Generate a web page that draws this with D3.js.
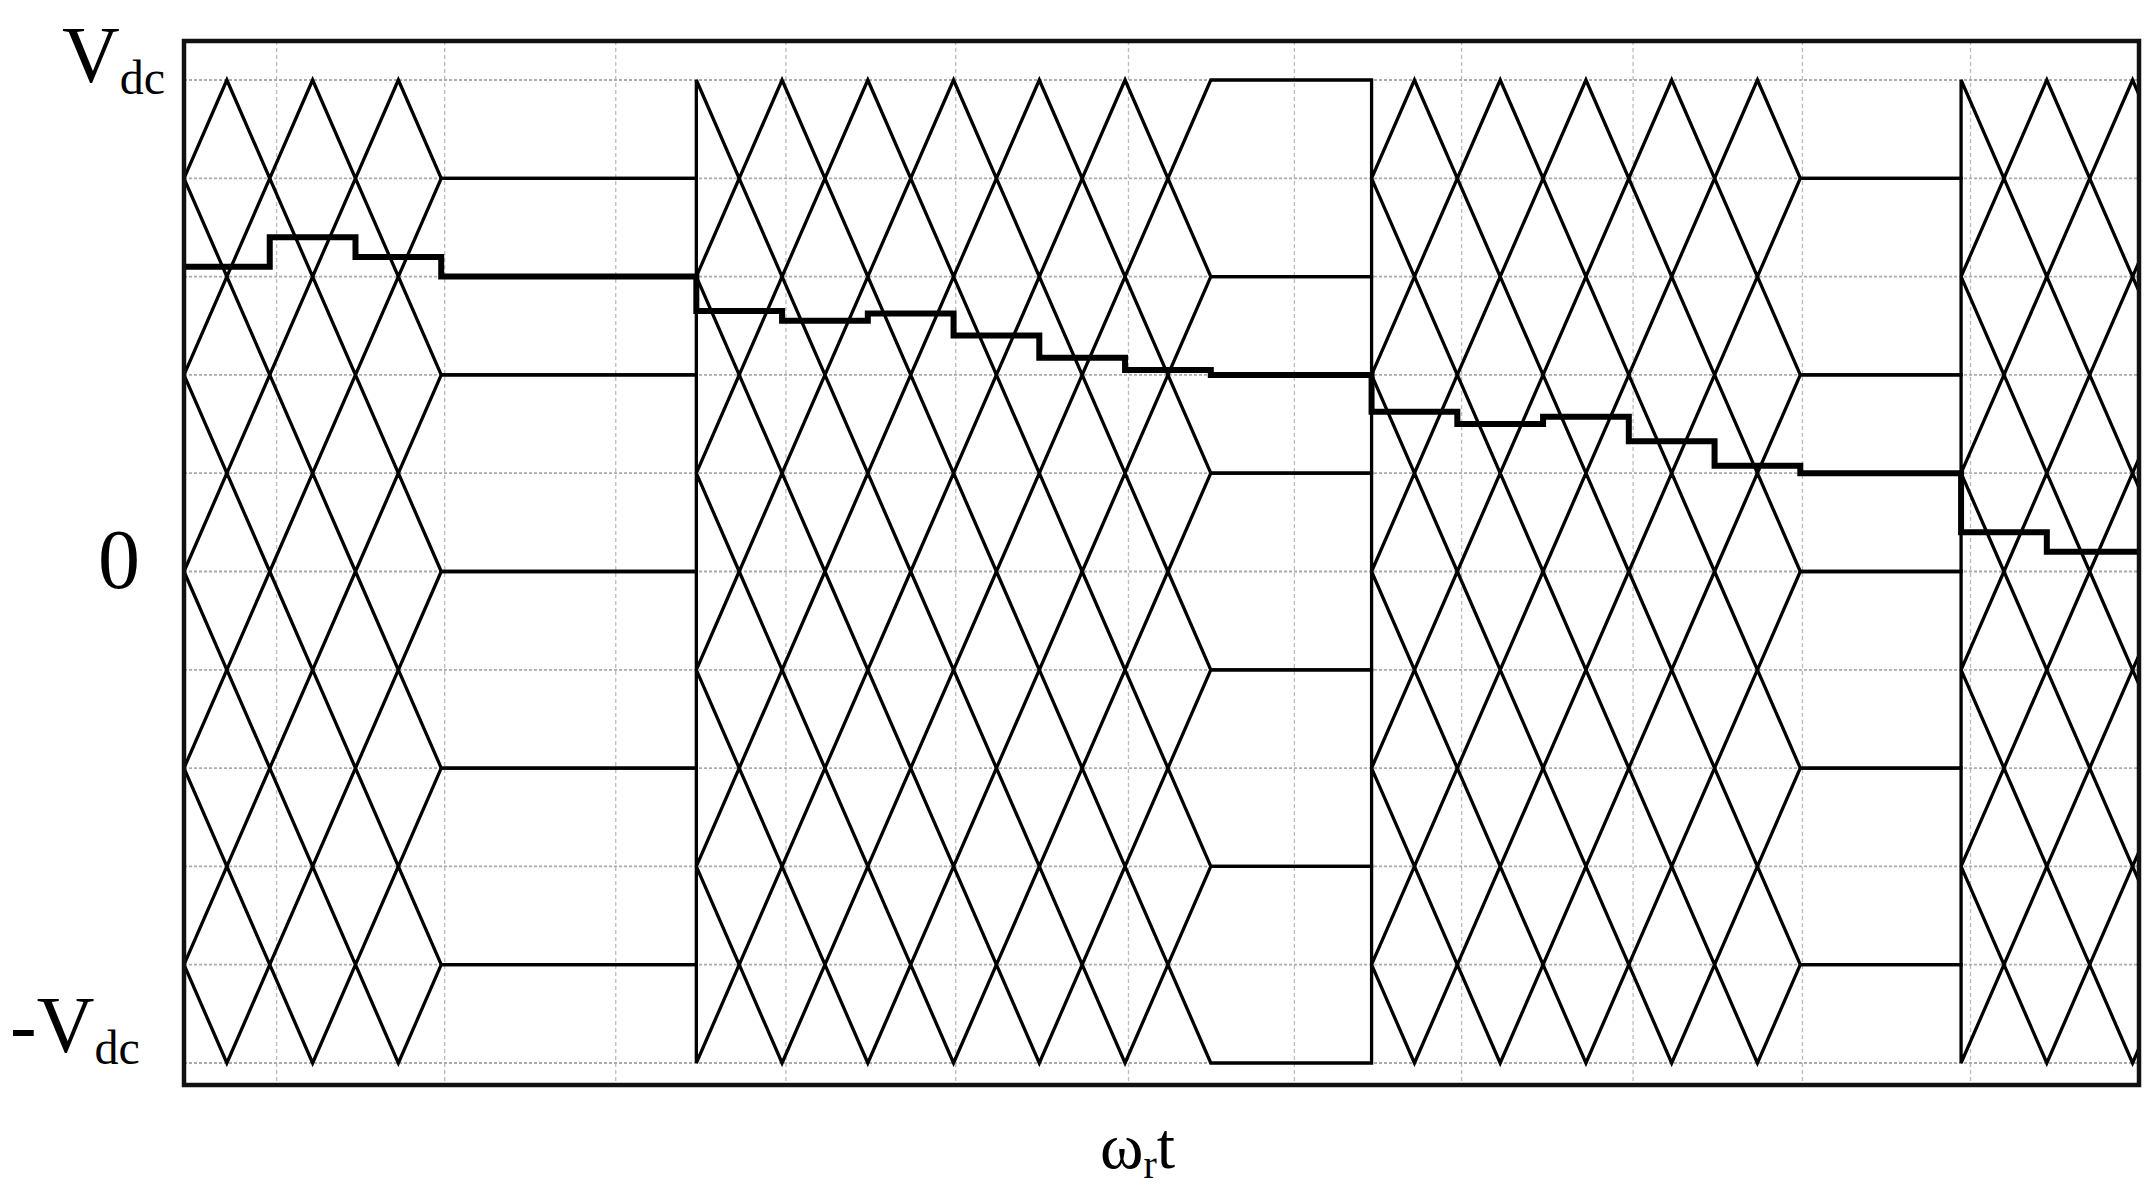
<!DOCTYPE html>
<html><head><meta charset="utf-8">
<script src="https://cdn.jsdelivr.net/npm/d3@7"></script>
<style>body{margin:0;background:#fff}svg{display:block}</style>
</head><body>
<script>
// time in carrier half-periods
const tDomain = [0, 45.6];
// carrier segments (startPhase 0 = top carrier at trough, 1 = at peak); gaps between them hold carriers flat
const segStart = [0, 11.95, 27.7, 41.45];
const segEnd   = [6, 23.95, 37.7, 45.6];
const segPhase = [0, 1, 0, 1];
// reference (modulating) staircase signal
const refT = [0,2,4,6,11.95,13.95,15.95,17.95,19.95,21.95,23.95,27.7,29.7,31.7,33.7,35.7,37.7,41.45,43.45];
const refV = [0.62,0.68,0.64,0.60,0.53,0.51,0.525,0.48,0.435,0.41,0.40,0.325,0.30,0.315,0.265,0.215,0.20,0.08,0.04];
const nBands = 10;
const levels = [1,0.8,0.6,0.4,0.2,0,-0.2,-0.4,-0.6,-0.8,-1];
const gridT = [2.16,6.08,10.07,14.04,18.0,22.03,25.9,29.8,33.8,37.75,41.67];

const W=2153,H=1192;
const svg=d3.select("body").append("svg").attr("width",W).attr("height",H);
const x=d3.scaleLinear().domain(tDomain).range([184,2139]);
const y=d3.scaleLinear().domain([-1,1]).range([1063,80]);
const frameTop=41,frameBottom=1085;

svg.append("g").selectAll("line").data(gridT).join("line")
 .attr("x1",d=>x(d)).attr("x2",d=>x(d)).attr("y1",frameTop).attr("y2",frameBottom)
 .attr("stroke","#bbb").attr("stroke-width",1.3).attr("stroke-dasharray","4,3");
svg.append("g").selectAll("line").data(levels).join("line")
 .attr("x1",184).attr("x2",2139).attr("y1",d=>y(d)).attr("y2",d=>y(d))
 .attr("stroke","#aaa").attr("stroke-width",1.8).attr("stroke-dasharray","3,2");

function bandPts(k){
  const hi=1-k*0.2, lo=hi-0.2, pts=[];
  segStart.forEach((s,i)=>{
    const e=segEnd[i];
    let atPeak=((k+segPhase[i])%2)===1;
    for(let n=0;s+n<=e+1e-9;n++){pts.push([s+n, atPeak?hi:lo]); atPeak=!atPeak;}
    const last=pts[pts.length-1];
    if(e-last[0]>1e-6){
      const f=e-last[0], tgt=atPeak?hi:lo;
      pts.push([e,last[1]+(tgt-last[1])*f]);
    }
    const hold=pts[pts.length-1][1];
    const nxt = i+1<segStart.length ? segStart[i+1] : null;
    if(nxt!==null) pts.push([nxt-1e-6,hold]);
  });
  return pts;
}
const line=d3.line().x(d=>x(d[0])).y(d=>y(d[1]));
svg.append("g").selectAll("path").data(d3.range(nBands)).join("path")
 .attr("d",k=>line(bandPts(k))).attr("fill","none").attr("stroke","#000").attr("stroke-width",3.3);

const refPts=refT.map((t,i)=>[t,refV[i]]); refPts.push([tDomain[1],refV[refV.length-1]]);
svg.append("path").attr("d",d3.line().curve(d3.curveStepAfter).x(d=>x(d[0])).y(d=>y(d[1]))(refPts))
 .attr("fill","none").attr("stroke","#000").attr("stroke-width",6);

svg.append("rect").attr("x",184).attr("y",frameTop).attr("width",2139-184).attr("height",frameBottom-frameTop)
 .attr("fill","none").attr("stroke","#111").attr("stroke-width",4.5);

const serif="'Liberation Serif','DejaVu Serif',serif";
function lab(xp,yp,main,sub,fs,sfs,pre){
  const t=svg.append("text").attr("x",xp).attr("y",yp).attr("font-family",serif).attr("font-size",fs).attr("fill","#000");
  if(pre) t.append("tspan").text(pre);
  t.append("tspan").text(main);
  if(sub) t.append("tspan").attr("font-size",sfs).attr("dy",fs*0.15).text(sub);
  return t;
}
lab(62,82,"V","dc",80,48);
svg.append("text").attr("x",98).attr("y",588).attr("font-family",serif).attr("font-size",84).text("0");
lab(10,1052,"V","dc",80,48,"-");
const xl=svg.append("text").attr("x",1100).attr("y",1168).attr("font-family",serif).attr("font-size",66);
xl.append("tspan").text("ω"); xl.append("tspan").attr("font-size",40).attr("dy",10).text("r");
xl.append("tspan").attr("dy",-10).text("t");
</script>
</body></html>
